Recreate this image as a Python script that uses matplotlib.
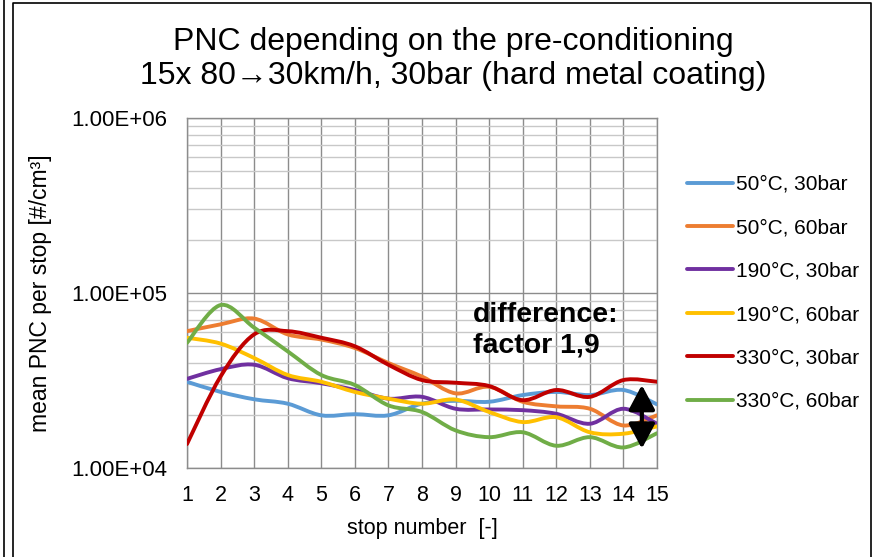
import numpy as np
import matplotlib
matplotlib.use('Agg')
import matplotlib.pyplot as plt
from matplotlib.path import Path
from matplotlib.patches import PathPatch
from matplotlib.lines import Line2D
from matplotlib.ticker import FixedLocator, LogLocator, FuncFormatter

plt.rcParams['font.family'] = ['Liberation Sans', 'DejaVu Sans']

# --- data ---
stops = np.arange(1, 16)
labels = ['50°C, 30bar', '50°C, 60bar', '190°C, 30bar',
          '190°C, 60bar', '330°C, 30bar', '330°C, 60bar']
pnc_50_30 = [31100, 27200, 24700, 23300, 20000, 20300, 20000, 23300,
             24200, 23900, 26100, 27200, 26100, 27900, 23100]
pnc_50_60 = [60500, 66200, 71400, 58000, 54200, 48500, 39800, 33300,
             26700, 29100, 23900, 22500, 21800, 17500, 20000]
pnc_190_30 = [32300, 36700, 38900, 32600, 30500, 27900, 24900, 25500,
              21800, 21600, 21400, 20400, 17900, 21800, 17900]
pnc_190_60 = [55500, 51400, 42500, 34000, 31100, 27200, 24900, 23300,
              24600, 20900, 18300, 19500, 16000, 15700, 17300]
pnc_330_30 = [13700, 33300, 58000, 60500, 55500, 49600, 38900, 31800,
              30700, 29400, 24400, 27900, 25500, 31800, 31100]
pnc_330_60 = [51900, 85300, 63400, 46400, 34000, 29800, 22800, 20900,
              16400, 15000, 16000, 13400, 15000, 13100, 15800]
series = [pnc_50_30, pnc_50_60, pnc_190_30, pnc_190_60, pnc_330_30, pnc_330_60]
colors = ['#5B9BD5', '#ED7D31', '#7030A0', '#FFC000', '#C00000', '#70AD47']


def smooth_path(x, y):
    # excel-like smoothed line: cubic bezier, control points from neighbours (in log space)
    x = np.asarray(x, float)
    ly = np.log10(np.asarray(y, float))
    n = len(x)
    verts = [(x[0], ly[0])]
    codes = [Path.MOVETO]
    for i in range(n - 1):
        p0 = (x[max(i - 1, 0)], ly[max(i - 1, 0)])
        p1 = (x[i], ly[i])
        p2 = (x[i + 1], ly[i + 1])
        p3 = (x[min(i + 2, n - 1)], ly[min(i + 2, n - 1)])
        c1 = (p1[0] + (p2[0] - p0[0]) / 6, p1[1] + (p2[1] - p0[1]) / 6)
        c2 = (p2[0] - (p3[0] - p1[0]) / 6, p2[1] - (p3[1] - p1[1]) / 6)
        verts += [c1, c2, p2]
        codes += [Path.CURVE4] * 3
    verts = [(vx, 10 ** vy) for vx, vy in verts]
    return Path(verts, codes)


fig = plt.figure(figsize=(8.77, 5.57), dpi=100)
ax = fig.add_axes([0.2132, 0.1598, 0.5359, 0.6284])

ax.set_yscale('log')
ax.set_ylim(1e4, 1e6)
ax.set_xlim(1, 15)

for vals, col in zip(series, colors):
    ax.add_patch(PathPatch(smooth_path(stops, vals), fill=False, edgecolor=col,
                           lw=2.8, capstyle='round', joinstyle='round', zorder=3))

ax.xaxis.set_major_locator(FixedLocator(stops))
ax.yaxis.set_major_locator(FixedLocator([1e4, 1e5, 1e6]))
ax.yaxis.set_minor_locator(LogLocator(base=10, subs=np.arange(2, 10)))
ax.yaxis.set_major_formatter(FuncFormatter(lambda v, p: '%.2E' % v))
ax.yaxis.set_minor_formatter(FuncFormatter(lambda v, p: ''))
ax.tick_params(axis='both', which='both', length=0, labelsize=15.5, colors='#000000')
ax.tick_params(axis='y', labelsize=16, pad=14)
ax.tick_params(axis='x', pad=12)

ax.grid(axis='x', which='major', color='#8c8c8c', lw=1.0)
ax.grid(axis='y', which='major', color='#8c8c8c', lw=1.0)
ax.grid(axis='y', which='minor', color='#c8c8c8', lw=1.0)
for s in ax.spines.values():
    s.set_color('#8c8c8c')
    s.set_linewidth(1.0)

ax.set_xlabel('stop number  [-]', fontsize=15.5, labelpad=9)
ax.set_ylabel('mean PNC per stop [#/cm³]', fontsize=16.5, labelpad=14)

fig.text(0.5165, 1 - 42 / 557, 'PNC depending on the pre-conditioning',
         ha='center', va='center', fontsize=23)
fig.text(0.5165, 1 - 76 / 557, '15x 80\u219230km/h, 30bar (hard metal coating)',
         ha='center', va='center', fontsize=23)

ax.text(9.52, 89000, 'difference:\nfactor 1,9', fontsize=20.5, fontweight='bold',
        ha='left', va='top', linespacing=1.25, zorder=5)
ax.annotate('', xy=(14.55, 12900), xytext=(14.55, 29800),
            arrowprops=dict(arrowstyle='<|-|>,head_length=0.75,head_width=0.4',
                            color='black', lw=3,
                            mutation_scale=20, shrinkA=0, shrinkB=0), zorder=6)

handles = [Line2D([], [], color=c, lw=2.8, solid_capstyle='round') for c in colors]
fig.legend(handles, labels, loc='upper left', bbox_to_anchor=(0.783, 1 - 175 / 557),
           frameon=False, fontsize=15, handlelength=2.2, handletextpad=0.15,
           labelspacing=1.17, borderpad=0, borderaxespad=0)

# chart frame
fig.add_artist(Line2D([4 / 877, 4 / 877], [0, 1], color='black', lw=1.2))
fig.add_artist(Line2D([13 / 877, 13 / 877, 871 / 877, 871 / 877],
                      [0, 1 - 3 / 557, 1 - 3 / 557, 0], color='black', lw=1.2))

fig.savefig('out.png', dpi=100)
